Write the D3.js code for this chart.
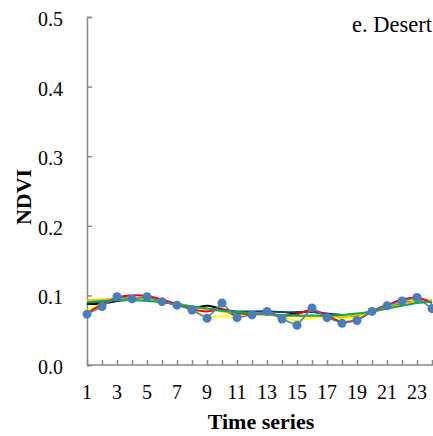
<!DOCTYPE html>
<html>
<head>
<meta charset="utf-8">
<script src="https://cdn.jsdelivr.net/npm/d3@7/dist/d3.min.js"></script>
</head>
<body style="margin:0;padding:0;background:#fff">
<svg id="chart" width="433" height="436" font-family="Liberation Serif" style="display:block"></svg>
<script>
// Time steps of the series
const steps = d3.range(1, 25);
const xTickLabels = [1, 3, 5, 7, 9, 11, 13, 15, 17, 19, 21, 23];
const yTicks = [0.0, 0.1, 0.2, 0.3, 0.4, 0.5];

// Raw NDVI observations
const rawNdvi = [0.073,0.084,0.098,0.095,0.098,0.091,0.086,0.079,0.067,0.089,0.068,0.072,
                 0.077,0.066,0.057,0.082,0.068,0.060,0.064,0.077,0.085,0.092,0.097,0.081];
// Reconstructed curves
const redFit    = [0.074,0.087,0.097,0.100,0.099,0.094,0.087,0.080,0.077,0.080,0.075,0.073,
                   0.074,0.071,0.073,0.079,0.071,0.062,0.065,0.077,0.086,0.094,0.097,0.089];
const yellowFit = [0.078,0.088,0.096,0.097,0.096,0.092,0.087,0.079,0.070,0.070,0.070,0.073,
                   0.073,0.068,0.064,0.068,0.069,0.067,0.069,0.076,0.084,0.091,0.094,0.090];
const blackFit  = [0.088,0.088,0.092,0.094,0.094,0.091,0.087,0.082,0.085,0.080,0.071,0.073,
                   0.074,0.071,0.075,0.077,0.072,0.068,0.070,0.076,0.083,0.089,0.093,0.090];
const navyFit   = [0.090,0.091,0.093,0.094,0.093,0.091,0.088,0.084,0.081,0.079,0.077,0.077,
                   0.077,0.076,0.076,0.076,0.074,0.072,0.073,0.077,0.082,0.088,0.092,0.092];
const orangeFit = [0.093,0.094,0.095,0.095,0.094,0.092,0.088,0.084,0.080,0.077,0.074,0.073,
                   0.072,0.071,0.070,0.070,0.070,0.070,0.072,0.076,0.081,0.087,0.092,0.093];
const greenFit  = [0.090,0.092,0.093,0.093,0.092,0.090,0.087,0.084,0.081,0.078,0.076,0.074,
                   0.073,0.072,0.071,0.071,0.071,0.072,0.074,0.077,0.081,0.085,0.089,0.091];

const fits = [
  { values: blackFit,  color: "#000000" },
  { values: navyFit,   color: "#1f3a78" },
  { values: yellowFit, color: "#ffff00" },
  { values: orangeFit, color: "#ffc000" },
  { values: redFit,    color: "#ff0000" },
  { values: greenFit,  color: "#00b050" }
];

const svg = d3.select("#chart");
const axisColor = "#898989";

const x = d3.scaleLinear().domain([1, 24]).range([87, 432]);
const y = d3.scaleLinear().domain([0, 0.5]).range([365, 17]);

// Axes
const gx = svg.append("g").attr("transform", `translate(0,${y(0)})`)
  .call(d3.axisBottom(x).tickValues(steps).tickSize(-5).tickFormat(""));
const gy = svg.append("g").attr("transform", `translate(${x(1)},0)`)
  .call(d3.axisLeft(y).tickValues(yTicks).tickSize(-5).tickFormat(""));
[gx, gy].forEach(g => {
  g.select(".domain").attr("stroke", axisColor).attr("stroke-width", 1.5);
  g.selectAll(".tick line").attr("stroke", axisColor).attr("stroke-width", 1.5);
});
gx.select(".domain").attr("d", `M${x(1)},0H433`);

// Text helper: serif face for every label
function label(sel) {
  return sel.style("font-family", "Liberation Serif").attr("fill", "#000");
}

// Tick labels
svg.append("g").selectAll("text").data(yTicks).join("text")
  .attr("x", 63).attr("y", d => y(d) + 2).attr("dy", "0.35em")
  .attr("text-anchor", "end").attr("font-size", 20)
  .call(label)
  .text(d => d.toFixed(1));
svg.append("g").selectAll("text").data(xTickLabels).join("text")
  .attr("x", d => x(d)).attr("y", 399)
  .attr("text-anchor", "middle").attr("font-size", 20)
  .call(label)
  .text(d => d);

// Axis titles
svg.append("text").attr("x", 261).attr("y", 429).attr("text-anchor", "middle")
  .attr("font-size", 22).attr("font-weight", "bold").call(label).text("Time series");
svg.append("text").attr("transform", "translate(31,197) rotate(-90)")
  .attr("text-anchor", "middle")
  .attr("font-size", 22).attr("font-weight", "bold").call(label).text("NDVI");

// Panel title
svg.append("text").attr("x", 432).attr("y", 32).attr("text-anchor", "end")
  .attr("font-size", 22.5).call(label).text("e. Desert");

// Fitted curves
const smooth = d3.line().x((d, i) => x(steps[i])).y(d => y(d)).curve(d3.curveCatmullRom.alpha(0.5));
svg.append("g").selectAll("path").data(fits).join("path")
  .attr("d", d => smooth(d.values))
  .attr("fill", "none").attr("stroke", d => d.color).attr("stroke-width", 2);

// Raw observations: line and markers
const straight = d3.line().x((d, i) => x(steps[i])).y(d => y(d));
svg.append("path").attr("d", straight(rawNdvi))
  .attr("fill", "none").attr("stroke", "#4a7ebb").attr("stroke-width", 1.5);
svg.append("g").selectAll("circle").data(rawNdvi).join("circle")
  .attr("cx", (d, i) => x(steps[i])).attr("cy", d => y(d)).attr("r", 4.5)
  .attr("fill", "#4a7ebb");
</script>
</body>
</html>
